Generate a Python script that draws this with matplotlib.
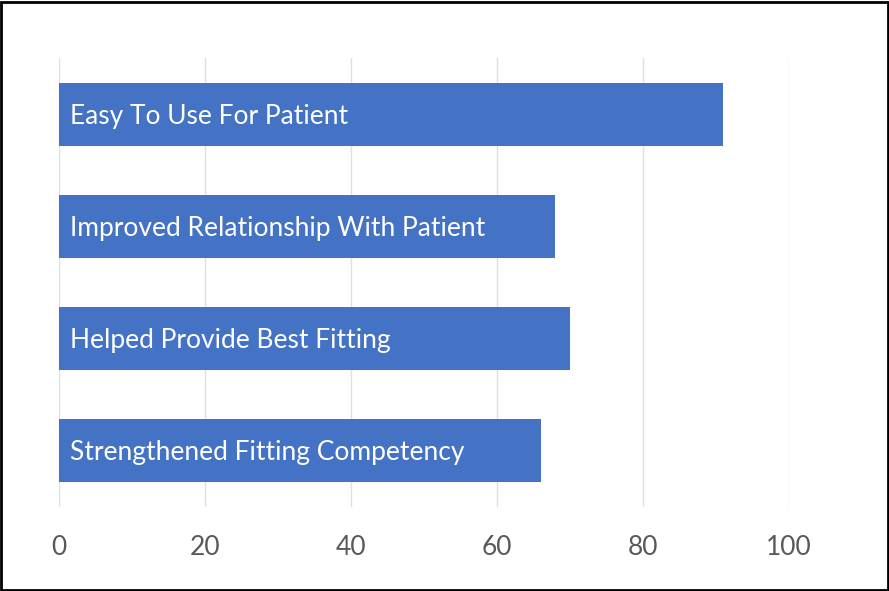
import matplotlib.pyplot as plt
from matplotlib.patches import Rectangle

plt.rcParams['font.family'] = ['Lato', 'DejaVu Sans']

categories = [
    "Easy To Use For Patient",
    "Improved Relationship With Patient",
    "Helped Provide Best Fitting",
    "Strengthened Fitting Competency",
]
values = [91, 68, 70, 66]
xticks = [0, 20, 40, 60, 80, 100]

fig = plt.figure(figsize=(8.89, 5.91), dpi=100)
ax = fig.add_axes([0.0664, 0.1421, 0.8211, 0.7597])

ypos = list(range(len(categories)))
ax.barh(ypos, values, height=0.56, color="#4472C4", zorder=2)

for y, label in zip(ypos, categories):
    ax.annotate(label, xy=(0, y), xytext=(8, -1.5), textcoords="offset points",
                ha="left", va="center", color="white", fontsize=19, zorder=3)

ax.set_xlim(0, 100)
ax.set_ylim(len(categories) - 0.5, -0.5)
ax.set_xticks(xticks)
ax.set_yticks([])
ax.tick_params(axis="x", length=0, pad=20, labelsize=19, labelcolor="#595959")
ax.grid(axis="x", color="#E0E0E0", linewidth=1.0, zorder=0)
ax.set_axisbelow(True)
for s in ax.spines.values():
    s.set_visible(False)

# outer frame around the chart
fig.patches.append(Rectangle((0.0015, 0.002), 0.997, 0.995, transform=fig.transFigure,
                             fill=False, edgecolor="black", linewidth=2))

fig.savefig("out.png", dpi=100)
